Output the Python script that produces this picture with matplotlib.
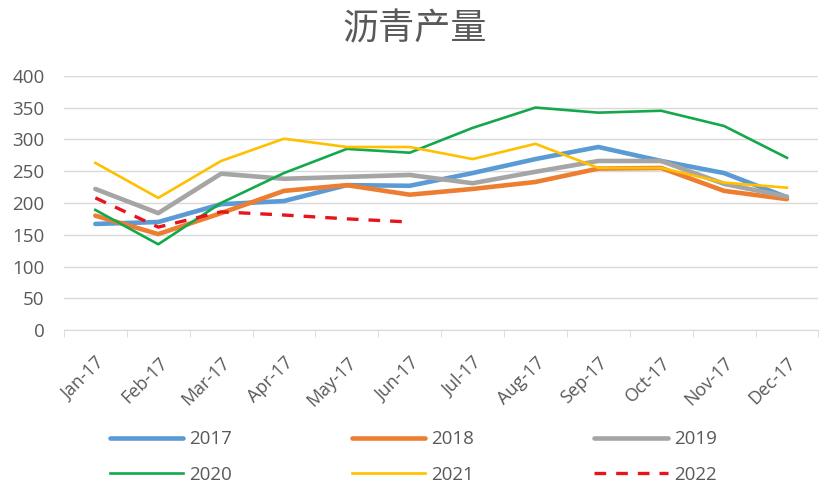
import matplotlib.pyplot as plt
import numpy as np

plt.rcParams['font.family'] = ['Open Sans', 'Noto Sans CJK SC', 'DejaVu Sans']

# Data
months = ['Jan-17', 'Feb-17', 'Mar-17', 'Apr-17', 'May-17', 'Jun-17',
          'Jul-17', 'Aug-17', 'Sep-17', 'Oct-17', 'Nov-17', 'Dec-17']
y2017 = [167, 170, 198, 203, 228, 227, 247, 269, 288, 266, 247, 209]
y2018 = [180, 151, 184, 219, 228, 213, 222, 233, 254, 255, 219, 206]
y2019 = [222, 184, 246, 238, 241, 244, 231, 249, 266, 266, 230, 210]
y2020 = [189, 135, 200, 247, 285, 279, 318, 350, 342, 345, 321, 271]
y2021 = [263, 208, 266, 301, 288, 288, 269, 293, 255, 255, 232, 224]
y2022 = [208, 162, 186, 181, 175, 170]

fig = plt.figure(figsize=(8.3, 4.92), dpi=100)
ax = fig.add_axes([0.077, 0.329, 0.909, 0.517])

x = np.arange(len(months))
l17, = ax.plot(x, y2017, color='#5B9BD5', lw=3.3, label='2017', solid_capstyle='round')
l18, = ax.plot(x, y2018, color='#ED7D31', lw=3.3, label='2018', solid_capstyle='round')
l19, = ax.plot(x, y2019, color='#A5A5A5', lw=3.3, label='2019', solid_capstyle='round')
l20, = ax.plot(x, y2020, color='#13A84A', lw=1.9, label='2020')
l21, = ax.plot(x, y2021, color='#FFC000', lw=1.9, label='2021')
l22, = ax.plot(x[:len(y2022)], y2022, color='#E8141B', lw=2.4, ls=(0, (3.5, 3)), label='2022')

ax.set_xlim(-0.5, len(months) - 0.5)
ax.set_ylim(0, 400)
ax.set_yticks(range(0, 401, 50))
ax.yaxis.grid(True, color='#D9D9D9', lw=1)
ax.set_axisbelow(True)
for s in ['top', 'right', 'left']:
    ax.spines[s].set_visible(False)
ax.spines['bottom'].set_color('#D9D9D9')
ax.tick_params(axis='y', length=0, labelsize=13.5, labelcolor='#595959', pad=14)

ax.set_xticks(x)
ax.set_xticklabels(months, rotation=45, ha='right', rotation_mode='anchor')
ax.set_xticks(np.arange(-0.5, len(months), 1), minor=True)
ax.tick_params(axis='x', which='major', length=0, labelsize=13, labelcolor='#595959', pad=17)
ax.tick_params(axis='x', which='minor', length=5, color='#D9D9D9')

fig.text(0.5, 0.941, '沥青产量', ha='center', va='center', fontsize=26,
         color='#595959', family=['Noto Sans CJK SC'])

handles = [l17, l20, l18, l21, l19, l22]
fig.legend(handles, [h.get_label() for h in handles], ncol=3, loc='center',
           bbox_to_anchor=(0.498, 0.071), frameon=False, fontsize=13.5,
           labelcolor='#595959', handlelength=3.9, handletextpad=0.33,
           columnspacing=6.4, labelspacing=0.95)

fig.savefig('out.png', dpi=100)
